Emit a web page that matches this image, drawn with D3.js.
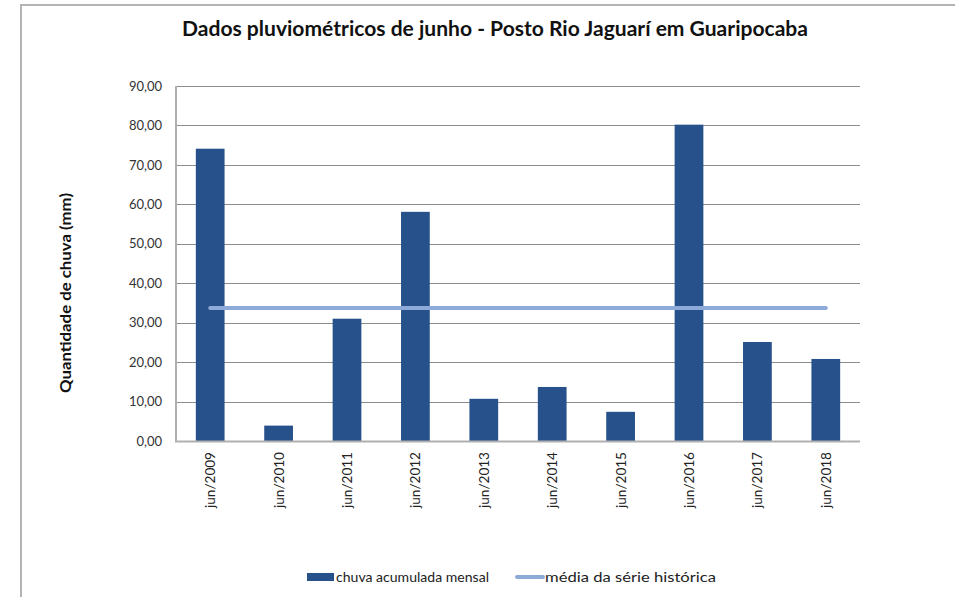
<!DOCTYPE html>
<html>
<head>
<meta charset="utf-8">
<script src="https://cdn.jsdelivr.net/npm/d3@7"></script>
<style>
  body { margin: 0; background: #fff; }
  text { font-family: Lato, "Open Sans", sans-serif; }
</style>
</head>
<body>
<svg id="chart" width="955" height="597"></svg>
<script>
// data
var categories = ["jun/2009", "jun/2010", "jun/2011", "jun/2012", "jun/2013",
                  "jun/2014", "jun/2015", "jun/2016", "jun/2017", "jun/2018"];
var chuva = [74.1, 3.9, 31.0, 58.1, 10.7, 13.7, 7.4, 80.2, 25.1, 20.8];
var media = [33.7, 33.7, 33.7, 33.7, 33.7, 33.7, 33.7, 33.7, 33.7, 33.7];
var yTicks = [0, 10, 20, 30, 40, 50, 60, 70, 80, 90];

var svg = d3.select("#chart");
var margin = {left: 176, top: 86, right: 95, bottom: 156};
var width = 955 - margin.left - margin.right;
var height = 597 - margin.top - margin.bottom;

var barColor = "#26518a";
var lineColor = "#8eaad8";

// outer frame (only left + top visible in the reference)
svg.append("path")
    .attr("d", "M21,597 V5 H955")
    .attr("fill", "none")
    .attr("stroke", "#b4b4b4")
    .attr("stroke-width", 2);

svg.append("text")
    .attr("x", 495)
    .attr("y", 36)
    .attr("text-anchor", "middle")
    .attr("textLength", 626)
    .attr("lengthAdjust", "spacingAndGlyphs")
    .style("font-size", "20px")
    .style("font-weight", "bold")
    .attr("fill", "#111")
    .text("Dados pluviométricos de junho - Posto Rio Jaguarí em Guaripocaba");

var g = svg.append("g")
    .attr("transform", "translate(" + margin.left + "," + margin.top + ")");

var x = d3.scaleBand().domain(categories).range([0, width]).paddingInner(0.58).paddingOuter(0.29);
var xc = d3.scalePoint().domain(categories).range([0, width]).padding(0.5);
var y = d3.scaleLinear().domain([0, 90]).range([height, 0]);

var fmt = function(d) { return d3.format(".2f")(d).replace(".", ","); };

// gridlines
g.append("g")
    .attr("class", "grid")
    .selectAll("line")
    .data(yTicks.slice(1))
    .join("line")
    .attr("x1", 0)
    .attr("x2", width)
    .attr("y1", function(d) { return Math.round(y(d)) + 0.5; })
    .attr("y2", function(d) { return Math.round(y(d)) + 0.5; })
    .attr("stroke", "#8c8c8c")
    .attr("stroke-width", 1);

// y axis
var yAxis = g.append("g")
    .call(d3.axisLeft(y).tickValues(yTicks).tickFormat(fmt).tickSize(0).tickPadding(14));
yAxis.select(".domain").remove();
yAxis.selectAll("text")
    .style("font-size", "13px")
    .attr("fill", "#333");

// bars
g.append("g")
    .selectAll("rect")
    .data(chuva)
    .join("rect")
    .attr("x", function(d, i) { return x(categories[i]); })
    .attr("y", function(d) { return y(d); })
    .attr("width", x.bandwidth())
    .attr("height", function(d) { return height - y(d); })
    .attr("fill", barColor);

// axis lines
g.append("line")
    .attr("x1", 0).attr("x2", 0).attr("y1", 0).attr("y2", height + 1)
    .attr("stroke", "#b0b0b0").attr("stroke-width", 2);
g.append("line")
    .attr("x1", -1).attr("x2", width).attr("y1", height + 0.5).attr("y2", height + 0.5)
    .attr("stroke", "#b0b0b0").attr("stroke-width", 2);

// average line
var line = d3.line()
    .x(function(d, i) { return xc(categories[i]); })
    .y(function(d) { return y(d); });
g.append("path")
    .datum(media)
    .attr("d", line)
    .attr("fill", "none")
    .attr("stroke", lineColor)
    .attr("stroke-width", 4)
    .attr("stroke-linecap", "round");

// x labels
var xAxis = g.append("g")
    .attr("transform", "translate(0," + height + ")")
    .call(d3.axisBottom(xc).tickSize(0).tickPadding(0));
xAxis.select(".domain").remove();
xAxis.selectAll("text")
    .attr("transform", "rotate(-90)")
    .attr("x", -11)
    .attr("y", 0)
    .attr("dy", "0.35em")
    .attr("text-anchor", "end")
    .attr("textLength", 56)
    .attr("lengthAdjust", "spacingAndGlyphs")
    .style("font-size", "13px")
    .attr("fill", "#222");

// y title
svg.append("text")
    .attr("transform", "translate(71,293) rotate(-90)")
    .attr("text-anchor", "middle")
    .attr("textLength", 200)
    .attr("lengthAdjust", "spacingAndGlyphs")
    .style("font-size", "15px")
    .style("font-weight", "bold")
    .attr("fill", "#111")
    .text("Quantidade de chuva (mm)");

// legend
var legend = svg.append("g").attr("transform", "translate(0,577)");
legend.append("rect")
    .attr("x", 307).attr("y", -4).attr("width", 27).attr("height", 8)
    .attr("fill", barColor);
legend.append("text")
    .attr("x", 336).attr("y", 0).attr("dy", "0.35em")
    .attr("textLength", 153)
    .attr("lengthAdjust", "spacingAndGlyphs")
    .style("font-size", "13.5px").attr("fill", "#222")
    .text("chuva acumulada mensal");
legend.append("line")
    .attr("x1", 517).attr("x2", 543).attr("y1", 0).attr("y2", 0)
    .attr("stroke", lineColor).attr("stroke-width", 4).attr("stroke-linecap", "round");
legend.append("text")
    .attr("x", 545).attr("y", 0).attr("dy", "0.35em")
    .attr("textLength", 171)
    .attr("lengthAdjust", "spacingAndGlyphs")
    .style("font-size", "13.5px").attr("fill", "#222")
    .text("média da série histórica");
</script>
</body>
</html>
